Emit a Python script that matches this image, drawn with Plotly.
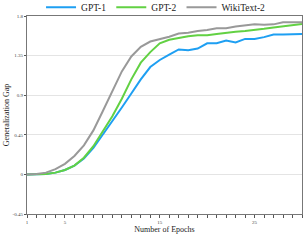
import plotly.graph_objects as go

epochs = list(range(1, 31))
gpt1 = [0, 0, 0.005, 0.02, 0.05, 0.10, 0.18, 0.30, 0.45, 0.61, 0.76, 0.92, 1.08, 1.22, 1.30,
        1.36, 1.42, 1.41, 1.43, 1.49, 1.49, 1.52, 1.50, 1.54, 1.54, 1.56, 1.59, 1.59, 1.595, 1.595]
gpt2 = [0, 0, 0.005, 0.02, 0.05, 0.10, 0.19, 0.32, 0.49, 0.66, 0.86, 1.08, 1.27, 1.39, 1.49,
        1.53, 1.55, 1.57, 1.58, 1.58, 1.595, 1.61, 1.62, 1.63, 1.64, 1.655, 1.67, 1.685, 1.70, 1.71]
wiki2 = [0, 0.005, 0.02, 0.06, 0.12, 0.21, 0.33, 0.50, 0.72, 0.95, 1.17, 1.34, 1.45, 1.51, 1.535,
         1.565, 1.60, 1.61, 1.63, 1.64, 1.66, 1.66, 1.68, 1.69, 1.705, 1.70, 1.705, 1.73, 1.73, 1.73]

series_names = ["GPT-1", "GPT-2", "WikiText-2"]
colors = ["#1E9FF2", "#62D143", "#999999"]

y_ticks = [-0.45, 0, 0.45, 0.9, 1.35, 1.8]
y_ticktext = ["-0.45", "0", "0.45", "0.9", "1.35", "1.8"]
x_labeled = {1: "1", 5: "5", 15: "15", 25: "25"}

FONT = "Liberation Serif, Times New Roman, serif"

fig = go.Figure()
for name, ys, c in zip(series_names, [gpt1, gpt2, wiki2], colors):
    fig.add_trace(go.Scatter(x=epochs, y=ys, mode="lines", name=name,
                             line=dict(color=c, width=2)))

fig.update_layout(
    width=304, height=240,
    margin=dict(l=27, r=2, t=16, b=26, autoexpand=False),
    paper_bgcolor="white", plot_bgcolor="white",
    font=dict(family=FONT, color="#222"),
    showlegend=True,
    legend=dict(orientation="h", x=0.135, xanchor="left", xref="container",
                y=0.97, yanchor="middle", yref="container",
                font=dict(size=9.5, family=FONT),
                bgcolor="rgba(0,0,0,0)", tracegroupgap=0),
    xaxis=dict(range=[1, 30], tickvals=epochs,
               ticktext=[x_labeled.get(e, "") for e in epochs],
               ticks="outside", ticklen=3, tickcolor="#555", tickfont=dict(size=5, color="#444"),
               showline=True, linecolor="#777", linewidth=1, mirror=True,
               showgrid=False, zeroline=False,
               title=dict(text="Number of Epochs", font=dict(size=8, family=FONT), standoff=2)),
    yaxis=dict(range=[-0.45, 1.8], tickvals=y_ticks, ticktext=y_ticktext,
               ticks="outside", ticklen=2, tickcolor="#555", tickfont=dict(size=5, color="#444"),
               showline=True, linecolor="#777", linewidth=1, mirror=True,
               showgrid=True, gridcolor="#e4e4e4", gridwidth=1, zeroline=False,
               title=dict(text="Generalization Gap", font=dict(size=8, family=FONT), standoff=1)),
)

fig.write_html("out.html", config={"displayModeBar": False},
               post_script="document.body.style.margin='0';document.body.style.padding='0';")
